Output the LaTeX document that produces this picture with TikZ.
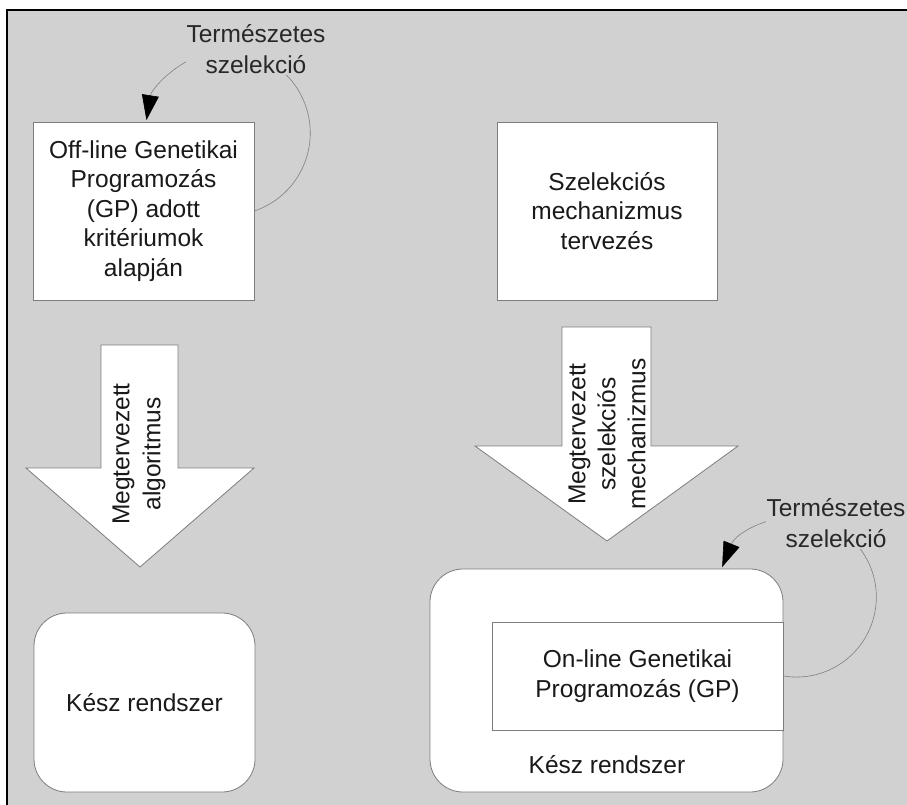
\documentclass[tikz,border=0pt]{standalone}
\usepackage{fontspec}
\setmainfont{Liberation Sans}
\usetikzlibrary{arrows.meta}
\definecolor{bggray}{RGB}{209,209,209}
\definecolor{edgegray}{RGB}{125,125,125}
\definecolor{txtgray}{RGB}{40,40,40}

\begin{document}
\begin{tikzpicture}[x=1pt,y=-1pt,>={Triangle[length=25pt,width=17pt,color=black]},
    box/.style={draw=edgegray,line width=.8pt,fill=white,inner sep=0pt,
      align=center,text=black!90,font=\fontsize{24.5}{29.5}\selectfont},
    rbox/.style={box,rounded corners=33pt},
    blockarrow/.style={draw=edgegray,line width=.8pt,fill=white},
    sel/.style={draw=gray,line width=.6pt},
    lbl/.style={fill=bggray,inner sep=1pt,align=center,text=txtgray,
      font=\fontsize{24.5}{31}\selectfont}]
  \useasboundingbox (0,0) rectangle (907,805);
  \fill[bggray] (7,10) rectangle (907,805);
  \draw[line width=1.2pt] (7,805) -- (7,10) -- (907,10);
  % bal oldal
  \node[box,minimum width=221pt,minimum height=178pt] (offgp) at (143.5,211)
    {Off-line Genetikai\\Programozás\\(GP) adott\\kritériumok\\alapján};
  \draw[blockarrow] (101,345) -- (178,345) -- (178,468) -- (254,468)
    -- (140,567) -- (26,468) -- (101,468) -- cycle;
  \node[rotate=90,align=center,text=black!90,
    font=\fontsize{24.5}{31}\selectfont] (algo) at (139,454)
    {Megtervezett\\algoritmus};
  \node[rbox,minimum width=221pt,minimum height=179pt] (keszbal) at (144.5,702.5)
    {Kész rendszer};
  % jobb oldal
  \node[box,minimum width=220pt,minimum height=178pt] (szelterv) at (607,211)
    {Szelekciós\\mechanizmus\\tervezés};
  \draw[blockarrow] (562,327) -- (651,327) -- (651,446) -- (738,446)
    -- (607,541) -- (475,446) -- (562,446) -- cycle;
  \node[rotate=90,align=center,text=black!90,
    font=\fontsize{24.5}{30}\selectfont] (szelmech) at (607,434)
    {Megtervezett\\szelekciós\\mechanizmus};
  \node[rbox,minimum width=353pt,minimum height=223pt] (keszjobb) at (606.5,680.5) {};
  \node[box,rounded corners=0pt,minimum width=291pt,minimum height=108pt] (onlgp)
    at (637.5,676) {On-line Genetikai\\Programozás (GP)};
  \node[text=black!90,font=\fontsize{24.5}{29.5}\selectfont] (keszlbl) at (607,765)
    {Kész rendszer};
  % szelekcio hurkok
  \draw[sel,->] (offgp.east) arc[start angle=-71.2,end angle=171,radius=82.4pt];
  \draw[sel,->] (onlgp.east) arc[start angle=-99.3,end angle=158,radius=80pt];
  \node[lbl] (termbal) at (256,49) {Természetes\\szelekció};
  \node[lbl] (termjobb) at (836,523) {Természetes\\szelekció};
\end{tikzpicture}
\end{document}
